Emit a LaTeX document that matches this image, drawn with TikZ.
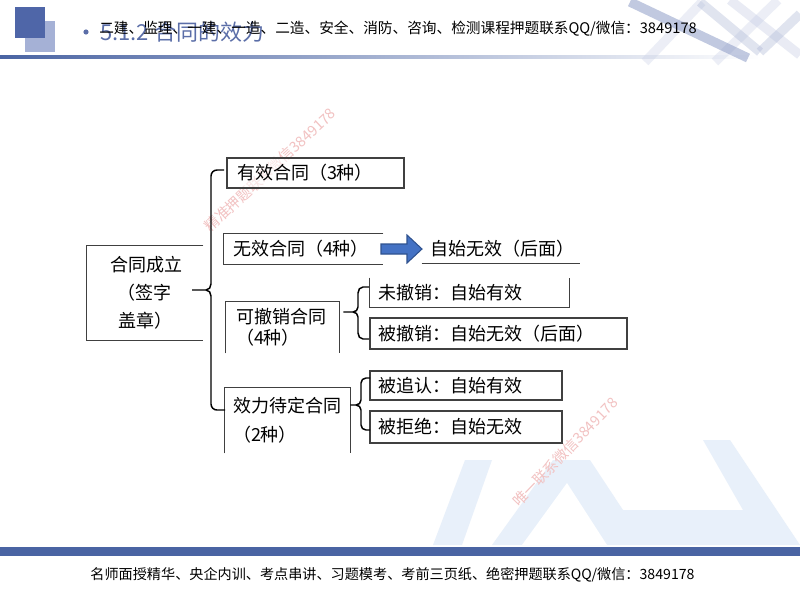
\documentclass[tikz,border=0pt]{standalone}
\usepackage{fontspec}
\setmainfont{Noto Sans CJK SC}
\usetikzlibrary{calc}
\definecolor{lg}{HTML}{404040}
\definecolor{bgblue}{HTML}{E8F0FA}
\definecolor{barblue}{HTML}{4A64A3}
\definecolor{sqdark}{HTML}{4F66A8}
\definecolor{sqlight}{HTML}{A5B1D6}
\definecolor{titleblue}{HTML}{5B6EA8}
\definecolor{arrfill}{HTML}{4472C4}
\definecolor{arrdraw}{HTML}{2F528F}
\definecolor{wmcol}{HTML}{F2C2C2}
\begin{document}
\begin{tikzpicture}[x=0.75pt,y=-0.75pt,
  cjk/.style={font=\fontsize{13.5pt}{21pt}\selectfont},
  bx/.style={cjk, inner ysep=0pt, text height=11.6pt, text depth=1.35pt, align=left},
  ml/.style={inner sep=0pt, align=left},
  side/.style={draw=lg, line width=0.8pt},
  brace/.style={draw=black, line width=1.1pt},
  wm/.style={font=\fontsize{10.9pt}{12pt}\selectfont, text=wmcol, inner sep=0pt},
  bar/.style={inner sep=0pt, font=\fontsize{11pt}{12pt}\selectfont}
]
\useasboundingbox (0,0) rectangle (800,600);
\fill[white] (0,0) rectangle (800,600);

% background light-blue shapes
\fill[bgblue] (433,545) -- (465,460) -- (492,460) -- (462,545) -- cycle;
\fill[bgblue] (492,545) -- (553,460) -- (590,460) -- (623,510) -- (743,510) -- (703,440) -- (730,440) -- (800,545) -- cycle;
\fill[white] (567,483) -- (522,545) -- (607,545) -- cycle;

% header decoration
\fill[sqlight] (25,21) rectangle (55,52);
\fill[sqdark] (15,7) rectangle (45,38);
\shade[left color=barblue, right color=white] (0,55) rectangle (760,58);
\begin{scope}[line cap=butt]
\draw[line width=7pt, color=sqlight!60, opacity=0.35] (645,62) -- (702,2);
\draw[line width=7pt, color=sqlight!60, opacity=0.35] (715,62) -- (778,0);
\draw[line width=7pt, color=sqlight!70, opacity=0.35] (730,0) -- (800,55);
\draw[line width=7pt, color=sqdark!70, opacity=0.5] (630,2) -- (748,58);
\draw[line width=7pt, color=sqdark!50, opacity=0.35] (700,2) -- (760,52);
\draw[line width=7pt, color=sqdark!50, opacity=0.35] (760,52) -- (800,14);
\end{scope}
\fill[titleblue] (86,32) circle (2.6);
\node[anchor=west, inner sep=0pt, font=\fontsize{16.5pt}{18pt}\selectfont, text=titleblue] (tt) at (100,32) {5.1.2 合同的效力};
\node[bar, anchor=west] (ht) at (99,29) {二建、监理、一建、一造、二造、安全、消防、咨询、检测课程押题联系QQ/微信：3849178};

% footer
\fill[barblue] (0,547) rectangle (800,556);
\node[bar, font=\fontsize{10.6pt}{12pt}\selectfont] (ft) at (392.5,575) {名师面授精华、央企内训、考点串讲、习题模考、考前三页纸、绝密押题联系QQ/微信：3849178};

% watermarks
\node[wm, rotate=43] (wm1) at (270,170) {精准押题联系微信3849178};
\node[wm, rotate=46] (wm2) at (565,452) {唯一联系微信3849178};

% boxes
\node[bx, draw=lg, fill=white, fill opacity=0.6, text opacity=1, line width=0.8pt, minimum height=22.5pt, inner xsep=7.5pt, text width=117.75pt] (yx) at (315.5,173) {有效合同（3种）};
\node[bx, minimum height=22.5pt, inner xsep=6.75pt, text width=105.75pt] (wx) at (303.5,249) {无效合同（4种）};
\draw[side] (wx.north east) -- (wx.north west) -- (wx.south west) -- (wx.south east);

\node[bx, minimum height=21pt, inner xsep=6pt, text width=106.5pt] (zs) at (501,249) {自始无效（后面）};
\draw[side] (zs.south west) -- (zs.south east);

\node[ml, cjk, minimum width=87pt, minimum height=70.5pt, text width=87pt] (hc) at (145,293)
  {\hspace*{17.25pt}合同成立\\\hspace*{23pt}（签字\\\hspace*{23.5pt}盖章）};
\draw[side] (hc.north east) -- (hc.north west) -- (hc.south west) -- (hc.south east);

\node[ml, font=\fontsize{13.5pt}{15.75pt}\selectfont, minimum width=84.75pt, minimum height=38.25pt, text width=84.75pt] (kc) at (282.5,327.5)
  {\hspace*{7.5pt}可撤销合同\\\hspace*{7.5pt}（4种）};
\draw[side] (kc.south west) -- (kc.north west) -- (kc.north east) -- (kc.south east);

\node[ml, font=\fontsize{13.5pt}{21.75pt}\selectfont, minimum width=93.75pt, minimum height=48.75pt, text width=93.75pt] (xd) at (287.5,420.5)
  {\hspace*{6pt}效力待定合同\\\hspace*{6pt}（2种）};
\draw[side] (xd.south west) -- (xd.north west) -- (xd.north east) -- (xd.south east);

\node[bx, minimum height=21.75pt, inner xsep=6pt, text width=137.25pt] (wcx) at (469.5,292.5) {未撤销：自始有效};
\draw[side] (wcx.north west) -- (wcx.south west) -- (wcx.south east) -- (wcx.north east);
\node[bx, draw=lg, line width=0.8pt, minimum height=23.25pt, inner xsep=6pt, text width=180.75pt] (bcx) at (498.5,333.5) {被撤销：自始无效（后面）};
\node[bx, draw=lg, line width=0.8pt, minimum height=21.75pt, inner xsep=6pt, text width=132pt] (bzr) at (466,385.5) {被追认：自始有效};
\node[bx, draw=lg, line width=0.8pt, minimum height=24pt, inner xsep=6pt, text width=132pt] (bjj) at (466,427) {被拒绝：自始无效};

% arrow
\filldraw[fill=arrfill, draw=arrdraw, line width=0.8pt] (381,244) -- (407,244) -- (407,235) -- (422,249) -- (407,263) -- (407,254) -- (381,254) -- cycle;

% main brace
\coordinate (m0) at (192,290);
\coordinate (mt) at (224,170);
\coordinate (mb) at (225,410);
\draw[brace] (m0) -- (206,290) to[out=0,in=-90] (211,284) -- (211,176) to[out=90,in=180] (217,170) -- (mt);
\draw[brace] (206,290) to[out=0,in=90] (211,296) -- (211,404) to[out=-90,in=180] (217,410) -- (mb);

% sub brace 1
\coordinate (s1) at (kc.east |- 0,312);
\draw[brace] ([xshift=3]s1) -- (353,312) to[out=0,in=-90] (358,307) -- (358,293) to[out=90,in=180] (363,287) -- (369,287);
\draw[brace] (353,312) to[out=0,in=90] (358,317) -- (358,333) to[out=-90,in=180] (363,339) -- (369,339);

% sub brace 2
\coordinate (s2) at (xd.east |- 0,405);
\draw[brace] (s2) -- (356,405) to[out=0,in=-90] (361,400) -- (361,383) to[out=90,in=180] (366,378) -- (370,378);
\draw[brace] (356,405) to[out=0,in=90] (361,410) -- (361,425) to[out=-90,in=180] (366,430) -- (370,430);
\end{tikzpicture}
\end{document}
